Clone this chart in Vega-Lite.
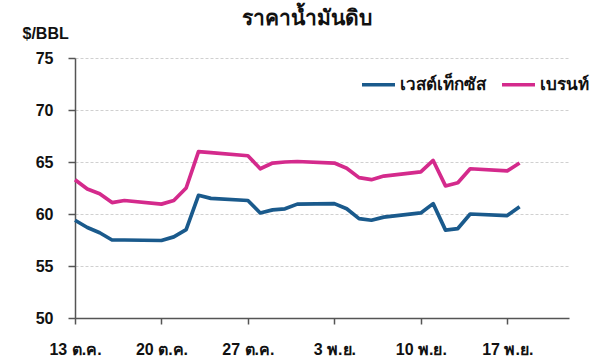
{
  "$schema": "https://vega.github.io/schema/vega-lite/v6.json",
  "autosize": {"type": "none"},
  "width": 494,
  "height": 260,
  "padding": {"left": 75, "top": 58, "right": 31, "bottom": 45},
  "background": "white",
  "title": {
    "text": "ราคาน้ำมันดิบ",
    "frame": "group",
    "anchor": "middle",
    "dx": -15,
    "dy": 4,
    "offset": 0,
    "fontSize": 21,
    "fontWeight": "bold",
    "font": "Liberation Sans",
    "color": "#111"
  },
  "config": {
    "view": {"stroke": null},
    "font": "Liberation Sans"
  },
  "data": {
    "values": [
      {"date": "2025-10-13", "series": "เวสต์เท็กซัส", "price": 59.4},
      {"date": "2025-10-14", "series": "เวสต์เท็กซัส", "price": 58.7},
      {"date": "2025-10-15", "series": "เวสต์เท็กซัส", "price": 58.2},
      {"date": "2025-10-16", "series": "เวสต์เท็กซัส", "price": 57.5},
      {"date": "2025-10-17", "series": "เวสต์เท็กซัส", "price": 57.5},
      {"date": "2025-10-20", "series": "เวสต์เท็กซัส", "price": 57.45},
      {"date": "2025-10-21", "series": "เวสต์เท็กซัส", "price": 57.8},
      {"date": "2025-10-22", "series": "เวสต์เท็กซัส", "price": 58.5},
      {"date": "2025-10-23", "series": "เวสต์เท็กซัส", "price": 61.8},
      {"date": "2025-10-24", "series": "เวสต์เท็กซัส", "price": 61.5},
      {"date": "2025-10-27", "series": "เวสต์เท็กซัส", "price": 61.3},
      {"date": "2025-10-28", "series": "เวสต์เท็กซัส", "price": 60.1},
      {"date": "2025-10-29", "series": "เวสต์เท็กซัส", "price": 60.4},
      {"date": "2025-10-30", "series": "เวสต์เท็กซัส", "price": 60.5},
      {"date": "2025-10-31", "series": "เวสต์เท็กซัส", "price": 60.95},
      {"date": "2025-11-03", "series": "เวสต์เท็กซัส", "price": 61.0},
      {"date": "2025-11-04", "series": "เวสต์เท็กซัส", "price": 60.5},
      {"date": "2025-11-05", "series": "เวสต์เท็กซัส", "price": 59.55},
      {"date": "2025-11-06", "series": "เวสต์เท็กซัส", "price": 59.4},
      {"date": "2025-11-07", "series": "เวสต์เท็กซัส", "price": 59.7},
      {"date": "2025-11-10", "series": "เวสต์เท็กซัส", "price": 60.1},
      {"date": "2025-11-11", "series": "เวสต์เท็กซัส", "price": 61.0},
      {"date": "2025-11-12", "series": "เวสต์เท็กซัส", "price": 58.45},
      {"date": "2025-11-13", "series": "เวสต์เท็กซัส", "price": 58.6},
      {"date": "2025-11-14", "series": "เวสต์เท็กซัส", "price": 60.0},
      {"date": "2025-11-17", "series": "เวสต์เท็กซัส", "price": 59.85},
      {"date": "2025-11-18", "series": "เวสต์เท็กซัส", "price": 60.7},
      {"date": "2025-10-13", "series": "เบรนท์", "price": 63.3},
      {"date": "2025-10-14", "series": "เบรนท์", "price": 62.4},
      {"date": "2025-10-15", "series": "เบรนท์", "price": 61.95},
      {"date": "2025-10-16", "series": "เบรนท์", "price": 61.1},
      {"date": "2025-10-17", "series": "เบรนท์", "price": 61.3},
      {"date": "2025-10-20", "series": "เบรนท์", "price": 60.95},
      {"date": "2025-10-21", "series": "เบรนท์", "price": 61.3},
      {"date": "2025-10-22", "series": "เบรนท์", "price": 62.5},
      {"date": "2025-10-23", "series": "เบรนท์", "price": 66.0},
      {"date": "2025-10-24", "series": "เบรนท์", "price": 65.9},
      {"date": "2025-10-27", "series": "เบรนท์", "price": 65.6},
      {"date": "2025-10-28", "series": "เบรนท์", "price": 64.35},
      {"date": "2025-10-29", "series": "เบรนท์", "price": 64.9},
      {"date": "2025-10-30", "series": "เบรนท์", "price": 65.0},
      {"date": "2025-10-31", "series": "เบรนท์", "price": 65.05},
      {"date": "2025-11-03", "series": "เบรนท์", "price": 64.9},
      {"date": "2025-11-04", "series": "เบรนท์", "price": 64.4},
      {"date": "2025-11-05", "series": "เบรนท์", "price": 63.5},
      {"date": "2025-11-06", "series": "เบรนท์", "price": 63.3},
      {"date": "2025-11-07", "series": "เบรนท์", "price": 63.65},
      {"date": "2025-11-10", "series": "เบรนท์", "price": 64.05},
      {"date": "2025-11-11", "series": "เบรนท์", "price": 65.15},
      {"date": "2025-11-12", "series": "เบรนท์", "price": 62.7},
      {"date": "2025-11-13", "series": "เบรนท์", "price": 63.0},
      {"date": "2025-11-14", "series": "เบรนท์", "price": 64.35},
      {"date": "2025-11-17", "series": "เบรนท์", "price": 64.15},
      {"date": "2025-11-18", "series": "เบรนท์", "price": 64.9}
    ]
  },
  "mark": {"type": "line", "strokeWidth": 3.7, "strokeJoin": "round"},
  "encoding": {
    "x": {
      "field": "date",
      "type": "temporal",
      "scale": {
        "type": "utc",
        "domain": [
          {"year": 2025, "month": 10, "date": 13, "utc": true},
          {"year": 2025, "month": 11, "date": 22, "utc": true}
        ]
      },
      "axis": {
        "title": null,
        "values": [
          {"year": 2025, "month": 10, "date": 13, "utc": true},
          {"year": 2025, "month": 10, "date": 20, "utc": true},
          {"year": 2025, "month": 10, "date": 27, "utc": true},
          {"year": 2025, "month": 11, "date": 3, "utc": true},
          {"year": 2025, "month": 11, "date": 10, "utc": true},
          {"year": 2025, "month": 11, "date": 17, "utc": true}
        ],
        "labelExpr": "utcdate(datum.value) + (utcmonth(datum.value) == 9 ? ' ต.ค.' : ' พ.ย.')",
        "grid": false,
        "domainColor": "#555",
        "domainWidth": 1.5,
        "tickColor": "#555",
        "tickWidth": 1.5,
        "tickSize": 6,
        "labelPadding": 17,
        "labelFontSize": 16,
        "labelFontWeight": "bold",
        "labelColor": "#111",
        "labelFlush": false
      }
    },
    "y": {
      "field": "price",
      "type": "quantitative",
      "scale": {"domain": [50, 75], "nice": false, "zero": false},
      "axis": {
        "values": [50, 55, 60, 65, 70, 75],
        "title": "$/BBL",
        "titleAngle": 0,
        "titleAlign": "left",
        "titleBaseline": "alphabetic",
        "titleX": -53,
        "titleY": -20,
        "titleFontSize": 16,
        "titleFontWeight": "bold",
        "titleColor": "#111",
        "grid": true,
        "gridColor": "#d0d0d0",
        "gridDash": [3, 2],
        "gridWidth": 1,
        "domainColor": "#555",
        "domainWidth": 1.5,
        "tickColor": "#555",
        "tickWidth": 1.5,
        "tickSize": 7,
        "labelPadding": 15,
        "labelFontSize": 16,
        "labelFontWeight": "bold",
        "labelColor": "#111"
      }
    },
    "color": {
      "field": "series",
      "type": "nominal",
      "scale": {
        "domain": ["เวสต์เท็กซัส", "เบรนท์"],
        "range": ["#1a5a8c", "#d42a8c"]
      },
      "legend": {
        "title": null,
        "orient": "none",
        "legendX": 285,
        "legendY": 8,
        "direction": "horizontal",
        "symbolType": "stroke",
        "symbolSize": 1089,
        "symbolStrokeWidth": 3.7,
        "labelFontSize": 17,
        "labelFontWeight": "bold",
        "labelColor": "#111",
        "columnPadding": 8,
        "labelOffset": 3
      }
    }
  }
}
